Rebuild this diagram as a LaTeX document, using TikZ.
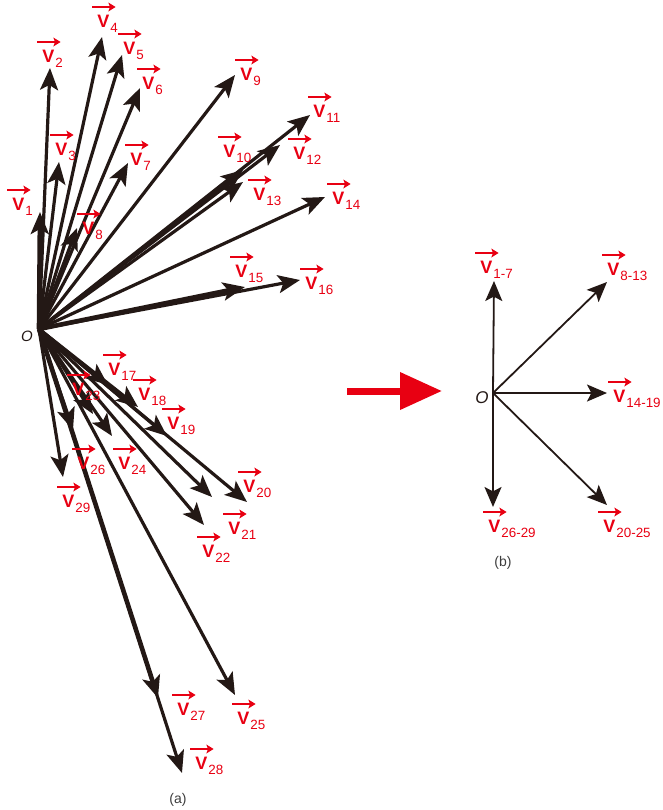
\documentclass[tikz,border=0pt]{standalone}
\usepackage{fontspec}
\setmainfont{Liberation Sans}
\usetikzlibrary{arrows.meta}
\definecolor{vred}{RGB}{232,0,18}
\definecolor{ink}{RGB}{35,24,21}
\definecolor{capgray}{RGB}{60,60,60}
\newcommand{\subf}{\fontsize{6.7}{6.7}\selectfont}
\newcommand{\vlab}[4]{%
  \node[vtxt] (#1) at (#2,#3) {\textbf{V}\kern0.5pt\raisebox{-2.5pt}{\subf #4}};
  \draw[vbar] ([xshift=-2.5pt,yshift=4pt]#1.north west) -- ++(11.8pt,0);}
\tikzset{
  vtxt/.style={anchor=north west, inner sep=0pt, text=vred, font=\fontsize{9}{9}\selectfont},
  vbar/.style={draw=vred, line width=1.1pt, -{Stealth[length=3.6pt,width=4.4pt,inset=0.8pt]}},
  va/.style={draw=ink, line width=1.6pt, -{Stealth[length=11pt,width=9pt,inset=2.5pt]}},
  vathick/.style={va, line width=2.3pt},
  vb/.style={draw=ink, line width=0.9pt, -{Stealth[length=10pt,width=8.5pt,inset=2.2pt]}},
  olab/.style={inner sep=0pt, text=ink, font=\fontsize{7.5}{7.5}\selectfont\itshape},
  captxt/.style={inner sep=0pt, text=capgray, font=\fontsize{7}{7}\selectfont},
}
\begin{document}
\begin{tikzpicture}[x=0.5pt,y=-0.5pt]
\useasboundingbox (0,0) rectangle (663,810);
% ---------- (a) ----------
\coordinate (O) at (39,329);
\foreach \n/\x/\y in {1/40/212,2/50/68,3/59/162,4/102/37,5/122/55,6/140/88,7/128/163,8/77/228,
  9/235/75,10/243/170,11/310/115,12/280/145,13/243/182,14/325/197,15/245/287,16/300/280,
  17/108/385,18/138/407,19/167/436,20/247/502,21/212/497,22/204/525,23/93/414,24/112/436,
  25/235/695,26/73/430,27/158/698,28/182/773,29/63/477}
  \coordinate (t\n) at (\x,\y);
\foreach \n in {2,...,14,16,17,18,19,20,21,22,23,24,25,26,28,29}
  \draw[va] (O) -- (t\n);
\draw[vathick] (O) -- (t1);
\draw[vathick] (O) -- (t15);
\draw[vathick] (O) -- (t27);
\node[olab] (Oa) at (27,336) {O};
\vlab{l1}{12}{198}{1}
\vlab{l2}{42}{50}{2}
\vlab{l3}{55}{143}{3}
\vlab{l4}{97}{15}{4}
\vlab{l5}{123}{42}{5}
\vlab{l6}{142}{77}{6}
\vlab{l7}{130}{153}{7}
\vlab{l8}{82}{222}{8}
\vlab{l9}{240}{68}{9}
\vlab{l10}{223}{145}{10}
\vlab{l11}{313}{105}{11}
\vlab{l12}{293}{147}{12}
\vlab{l13}{253}{188}{13}
\vlab{l14}{332}{192}{14}
\vlab{l15}{235}{265}{15}
\vlab{l16}{305}{277}{16}
\vlab{l17}{108}{363}{17}
\vlab{l18}{138}{388}{18}
\vlab{l19}{167}{417}{19}
\vlab{l20}{243}{480}{20}
\vlab{l21}{228}{522}{21}
\vlab{l22}{202}{545}{22}
\vlab{l23}{72}{383}{23}
\vlab{l24}{118}{457}{24}
\vlab{l25}{237}{712}{25}
\vlab{l26}{77}{457}{26}
\vlab{l27}{177}{703}{27}
\vlab{l28}{195}{757}{28}
\vlab{l29}{62}{495}{29}
\node[captxt] (capa) at (178,800) {(a)};
% ---------- red arrow ----------
\coordinate (ra1) at (347,391);
\coordinate (ra2) at (442,391);
\draw[draw=vred, line width=3.5pt, -{Triangle[length=21pt,width=18pt]}] (ra1) -- (ra2);
% ---------- (b) ----------
\coordinate (Ob) at (493,393);
\coordinate (b1) at (494,281);
\coordinate (b2) at (607,282);
\coordinate (b3) at (607,393);
\coordinate (b4) at (607,505);
\coordinate (b5) at (493,507);
\foreach \n in {1,...,5} \draw[vb] (Ob) -- (b\n);
\node[olab, font=\fontsize{8.5}{8.5}\selectfont\itshape] (Obl) at (482,398) {O};
\vlab{m1}{480}{261}{1-7}
\vlab{m2}{607}{263}{8-13}
\vlab{m3}{613}{390}{14-19}
\vlab{m4}{488}{520}{26-29}
\vlab{m5}{603}{520}{20-25}
\node[captxt] (capb) at (503,563) {(b)};
\end{tikzpicture}
\end{document}
